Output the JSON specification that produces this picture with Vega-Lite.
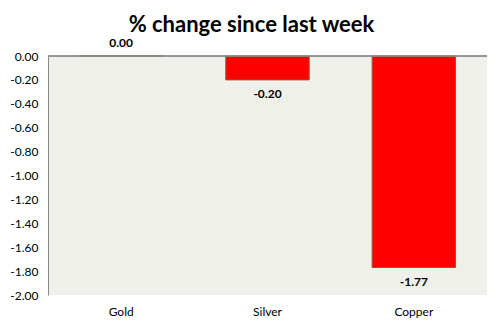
{
  "$schema": "https://vega.github.io/schema/vega-lite/v6.json",
  "width": 439,
  "height": 239,
  "autosize": {"type": "none"},
  "padding": {"left": 48, "top": 56, "right": 15, "bottom": 33},
  "background": "white",
  "config": {
    "view": {"fill": "#EFF0E9", "stroke": null},
    "font": "Lato"
  },
  "title": {
    "text": "% change since last week",
    "fontSize": 22,
    "fontWeight": "bold",
    "font": "Lato",
    "color": "#000000",
    "anchor": "middle",
    "offset": 0,
    "dx": -16
  },
  "data": {
    "values": [
      {"metal": "Gold", "change": 0.0},
      {"metal": "Silver", "change": -0.2},
      {"metal": "Copper", "change": -1.77}
    ]
  },
  "encoding": {
    "x": {
      "field": "metal",
      "type": "nominal",
      "sort": null,
      "scale": {"paddingInner": 0.43, "paddingOuter": 0.215},
      "axis": {
        "title": null,
        "labelAngle": 0,
        "domain": false,
        "ticks": false,
        "labelFontSize": 12,
        "labelColor": "#000000",
        "labelPadding": 11,
        "labelFont": "Lato"
      }
    },
    "y": {
      "field": "change",
      "type": "quantitative",
      "scale": {"domain": [-2, 0], "nice": false},
      "axis": {
        "title": null,
        "values": [0, -0.2, -0.4, -0.6, -0.8, -1.0, -1.2, -1.4, -1.6, -1.8, -2.0],
        "tickCount": 11,
        "labelExpr": "replace(format(datum.value, '.2f'), '\u2212', '-')",
        "labelOverlap": false,
        "grid": false,
        "ticks": false,
        "domainColor": "#888888",
        "labelFontSize": 12,
        "labelColor": "#000000",
        "labelPadding": 10,
        "labelFont": "Lato"
      }
    }
  },
  "layer": [
    {
      "mark": {"type": "bar", "color": "#FF0000", "stroke": "#A0522D", "strokeWidth": 1}
    },
    {
      "mark": {"type": "rule", "color": "#888888", "strokeWidth": 1},
      "encoding": {"y": {"datum": 0}, "x": {"value": 0}, "x2": {"value": 439}}
    },
    {
      "transform": [{"filter": "datum.change < 0"}],
      "mark": {"type": "text", "fontWeight": "bold", "fontSize": 12, "dy": 14, "color": "#000000", "font": "Lato",
               "text": {"expr": "replace(format(datum.change, '.2f'), '\u2212', '-')"}}
    },
    {
      "transform": [{"filter": "datum.change == 0"}],
      "mark": {"type": "text", "fontWeight": "bold", "fontSize": 12, "dy": -13, "color": "#000000", "font": "Lato",
               "text": {"expr": "replace(format(datum.change, '.2f'), '\u2212', '-')"}}
    }
  ]
}
